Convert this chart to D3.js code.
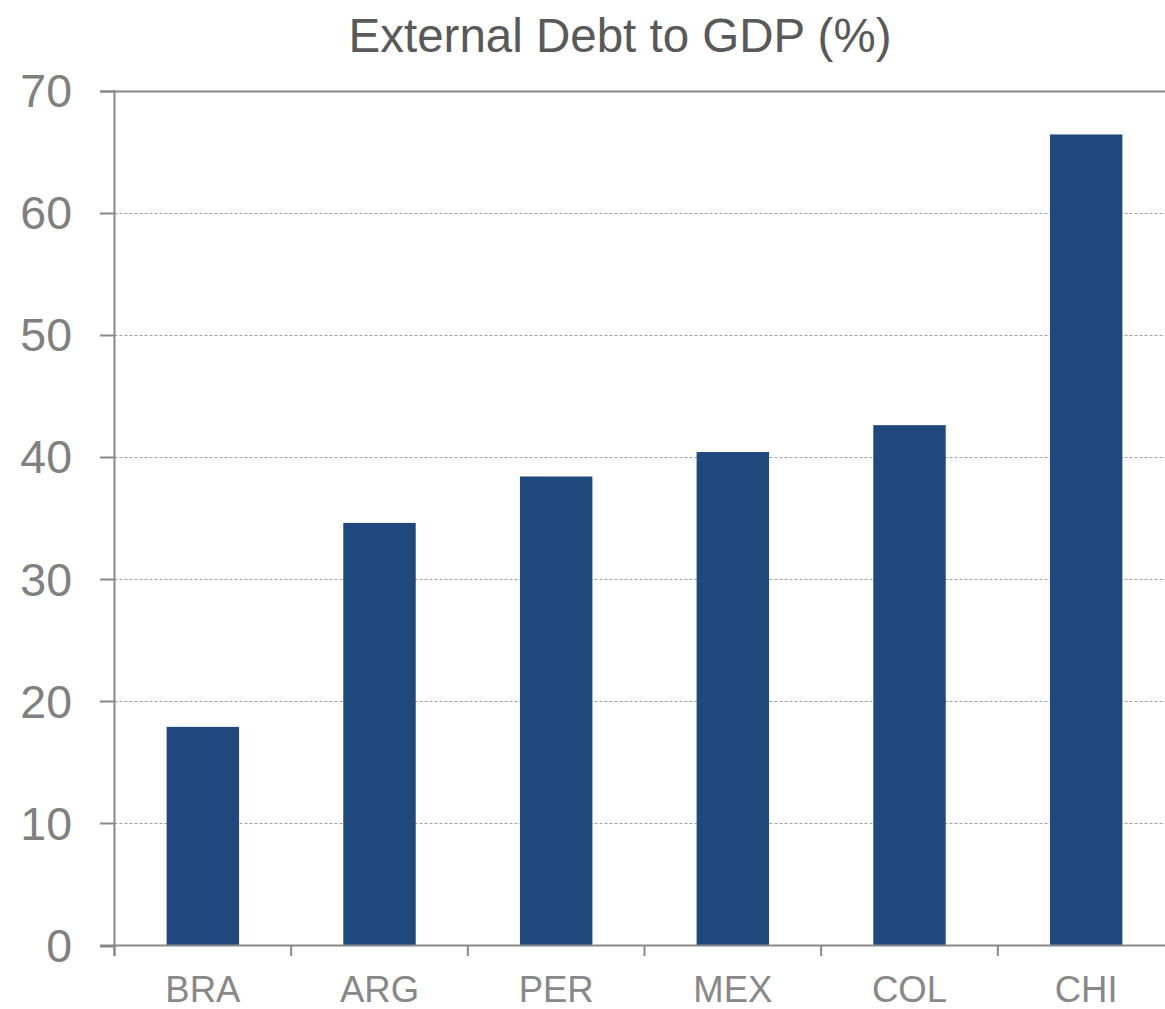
<!DOCTYPE html>
<html>
<head>
<meta charset="utf-8">
<script src="https://cdn.jsdelivr.net/npm/d3@7"></script>
<style>
  body { margin: 0; background: #fff; }
  svg { display: block; font-family: "Liberation Sans", Arial, sans-serif; }
</style>
</head>
<body>
<svg id="chart" width="1165" height="1009"></svg>
<script>
var countries = ["BRA", "ARG", "PER", "MEX", "COL", "CHI"];
var debtToGdp = [17.9, 34.6, 38.4, 40.4, 42.6, 66.4];
var yTicks = [0, 10, 20, 30, 40, 50, 60, 70];
var title = "External Debt to GDP (%)";

var svg = d3.select("#chart");
var axisColor = "#888888";

var x = d3.scaleBand()
  .domain(countries)
  .range([114.5, 1174.5])
  .paddingInner(0.59)
  .paddingOuter(0.295);

var y = d3.scaleLinear()
  .domain([0, 70])
  .range([945.5, 90.5]);

// title
svg.append("text")
  .attr("x", 620)
  .attr("y", 52)
  .attr("text-anchor", "middle")
  .attr("fill", "#595959")
  .attr("font-size", 47.5)
  .text(title);

// gridlines (dotted, top one solid)
svg.append("g")
  .selectAll("line")
  .data(yTicks.filter(function (d) { return d > 0; }))
  .join("line")
  .attr("x1", function (d) { return d == 70 ? 100 : 114.5; })
  .attr("x2", 1165)
  .attr("y1", function (d) { return Math.round(y(d)) + 0.5; })
  .attr("y2", function (d) { return Math.round(y(d)) + 0.5; })
  .attr("stroke", function (d) { return d == 70 ? axisColor : "#a0a0a0"; })
  .attr("stroke-width", function (d) { return d == 70 ? 2 : 1; })
  .attr("stroke-dasharray", function (d) { return d == 70 ? null : "3,2"; });

// bars
svg.append("g")
  .selectAll("rect")
  .data(countries)
  .join("rect")
  .attr("x", function (d) { return x(d); })
  .attr("width", x.bandwidth())
  .attr("y", function (d, i) { return y(debtToGdp[i]); })
  .attr("height", function (d, i) { return y(0) - y(debtToGdp[i]); })
  .attr("fill", "#1f497d");

// y axis
var yAxis = svg.append("g");
yAxis.append("line")
  .attr("x1", 114.5).attr("x2", 114.5)
  .attr("y1", 90).attr("y2", 956)
  .attr("stroke", axisColor).attr("stroke-width", 2);
yAxis.selectAll("line.tick")
  .data(yTicks)
  .join("line")
  .attr("class", "tick")
  .attr("x1", 100).attr("x2", 114.5)
  .attr("y1", function (d) { return Math.round(y(d)) + 0.5; })
  .attr("y2", function (d) { return Math.round(y(d)) + 0.5; })
  .attr("stroke", axisColor).attr("stroke-width", 2);
yAxis.selectAll("text")
  .data(yTicks)
  .join("text")
  .attr("x", 72)
  .attr("y", function (d) { return y(d); })
  .attr("dy", "0.355em")
  .attr("text-anchor", "end")
  .attr("fill", "#808080")
  .attr("font-size", 46.5)
  .text(function (d) { return d; });

// x axis
var xAxis = svg.append("g");
xAxis.append("line")
  .attr("x1", 100).attr("x2", 1165)
  .attr("y1", y(0)).attr("y2", y(0))
  .attr("stroke", axisColor).attr("stroke-width", 2);
xAxis.selectAll("line.tick")
  .data(countries.concat(["_end"]))
  .join("line")
  .attr("class", "tick")
  .attr("x1", function (d, i) { return 114.5 + i * x.step(); })
  .attr("x2", function (d, i) { return 114.5 + i * x.step(); })
  .attr("y1", y(0)).attr("y2", 956)
  .attr("stroke", axisColor).attr("stroke-width", 2);
xAxis.selectAll("text")
  .data(countries)
  .join("text")
  .attr("x", function (d) { return x(d) + x.bandwidth() / 2; })
  .attr("y", 1002)
  .attr("text-anchor", "middle")
  .attr("fill", "#888888")
  .attr("font-size", 36.5)
  .text(function (d) { return d; });
</script>
</body>
</html>
